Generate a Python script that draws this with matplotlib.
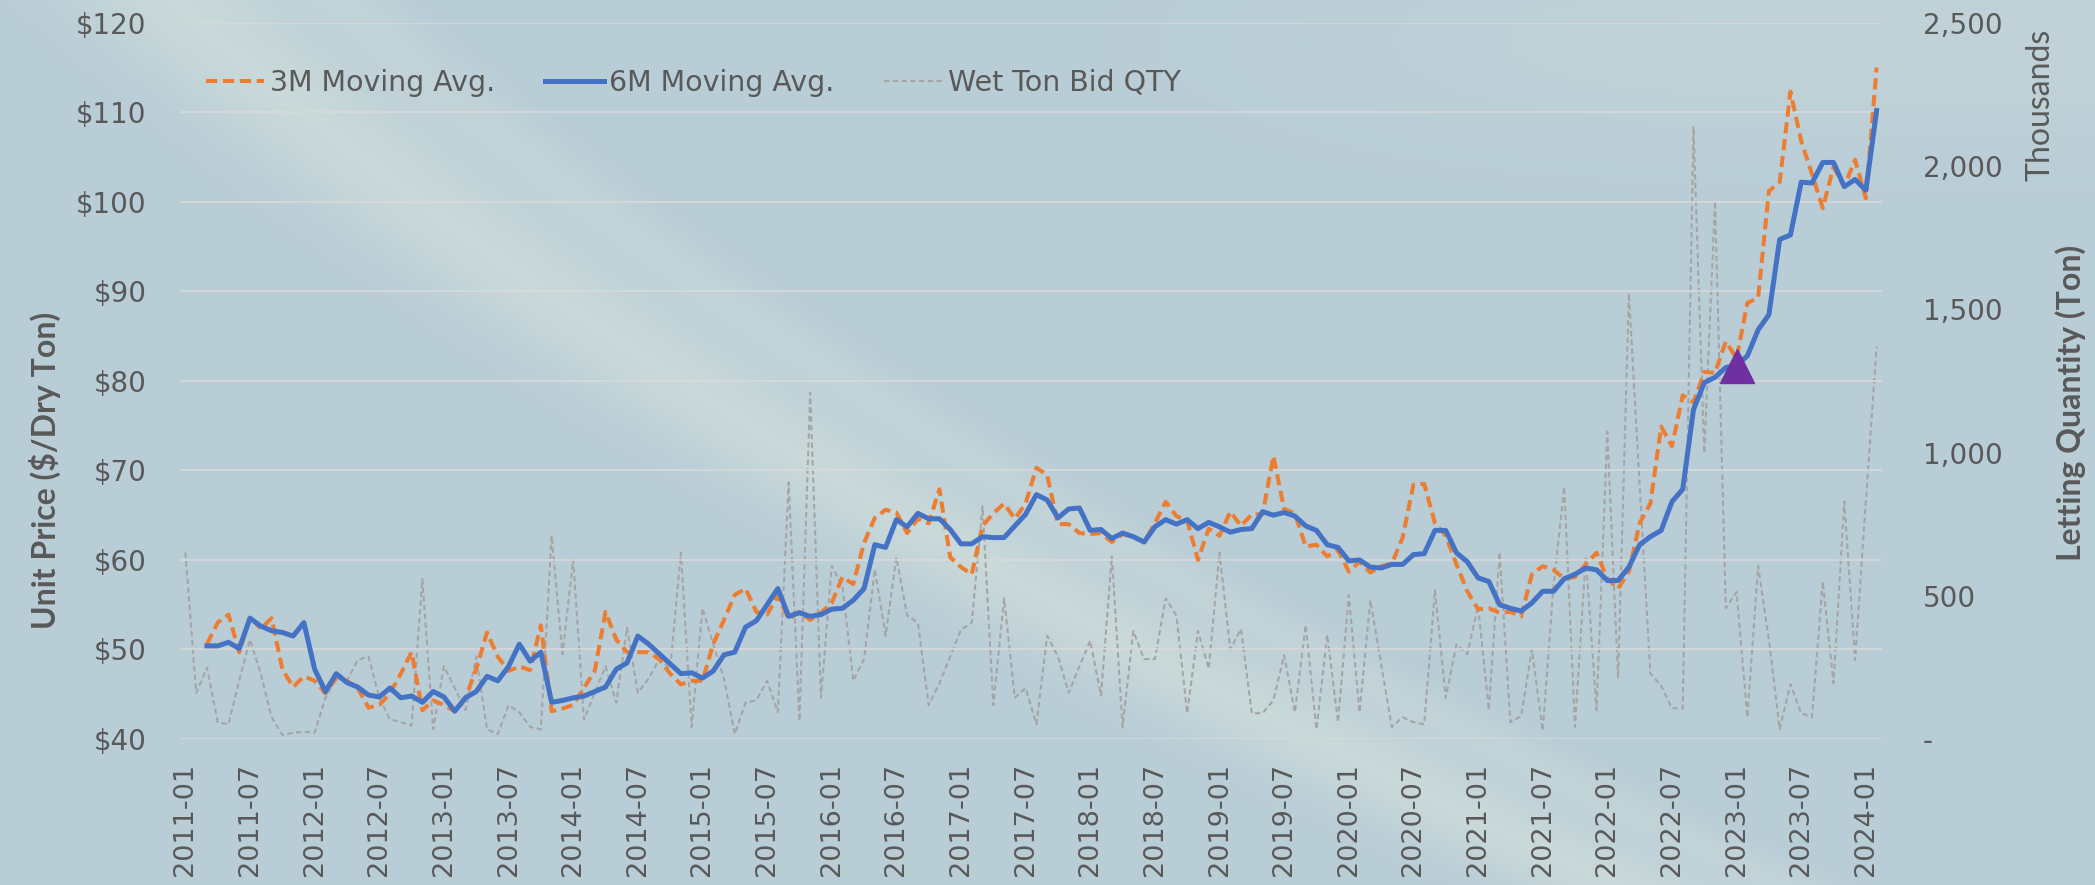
import numpy as np
import pandas as pd
import matplotlib
matplotlib.use("Agg")
import matplotlib.pyplot as plt
from matplotlib.ticker import FuncFormatter, MultipleLocator

# ====== 1) Data (monthly, 2011-01 .. 2024-02) ======
months = pd.date_range("2011-01-01", periods=158, freq="MS")

# 3-month moving average of unit price ($/dry ton), starts 2011-03
avg_3m = [
    50.6, 53.0, 53.9, 49.7, 53.7, 52.3, 53.5, 47.8, 45.8, 47.0,
    46.5, 45.1, 46.8, 46.5, 45.7, 43.5, 43.8, 45.1, 47.3, 49.7,
    43.2, 44.3, 43.8, 43.1, 44.6, 47.8, 51.9, 49.2, 47.6, 48.1,
    47.7, 52.7, 43.1, 43.4, 43.8, 45.7, 47.6, 54.2, 51.1, 49.7,
    49.7, 49.7, 48.9, 47.3, 46.1, 46.5, 46.5, 50.6, 53.3, 56.1,
    56.8, 54.2, 53.9, 56.0, 53.4, 54.2, 53.3, 54.1, 55.2, 58.1,
    57.3, 61.9, 64.7, 65.6, 65.3, 63.0, 64.6, 64.1, 67.9, 60.3,
    59.2, 58.4, 63.8, 65.2, 66.3, 64.6, 66.3, 70.3, 69.5, 64.0,
    64.0, 63.0, 62.9, 63.0, 62.0, 62.9, 62.6, 62.0, 64.1, 66.5,
    64.9, 64.4, 60.0, 63.5, 62.7, 65.4, 63.8, 65.1, 65.1, 71.6,
    65.7, 65.2, 61.5, 61.7, 60.4, 61.1, 58.7, 59.8, 58.6, 59.3,
    59.6, 62.5, 68.4, 68.5, 64.1, 62.7, 59.5, 56.5, 54.5, 54.6,
    54.1, 54.2, 53.7, 58.4, 59.3, 58.9, 57.9, 58.1, 59.5, 60.8,
    57.9, 56.8, 58.7, 64.1, 66.3, 74.9, 72.7, 78.4, 77.6, 81.0,
    80.9, 84.4, 82.5, 88.7, 89.3, 101.2, 102.2, 112.3, 106.8, 103.1,
    99.3, 103.9, 101.7, 104.7, 100.4, 115.0,
]

# 6-month moving average of unit price ($/dry ton), starts 2011-03
avg_6m = [
    50.4, 50.4, 50.8, 50.1, 53.5, 52.6, 52.1, 51.9, 51.5, 53.0,
    47.8, 45.3, 47.3, 46.3, 45.8, 44.9, 44.7, 45.7, 44.6, 44.8,
    44.1, 45.3, 44.7, 43.1, 44.6, 45.3, 47.0, 46.5, 48.1, 50.6,
    48.7, 49.7, 44.1, 44.3, 44.6, 44.8, 45.3, 45.8, 47.8, 48.5,
    51.5, 50.6, 49.5, 48.4, 47.3, 47.4, 46.8, 47.6, 49.4, 49.7,
    52.5, 53.2, 55.0, 56.8, 53.7, 54.1, 53.7, 53.9, 54.5, 54.6,
    55.5, 56.8, 61.7, 61.4, 64.5, 63.7, 65.2, 64.6, 64.6, 63.4,
    61.8, 61.8, 62.6, 62.5, 62.5, 63.8, 65.1, 67.3, 66.7, 64.7,
    65.7, 65.8, 63.3, 63.4, 62.4, 63.0, 62.6, 62.0, 63.7, 64.5,
    64.0, 64.5, 63.5, 64.2, 63.7, 63.1, 63.4, 63.5, 65.4, 65.0,
    65.3, 64.9, 63.8, 63.3, 61.7, 61.4, 59.9, 60.0, 59.2, 59.1,
    59.5, 59.5, 60.6, 60.7, 63.3, 63.3, 60.8, 59.8, 58.0, 57.6,
    55.0, 54.6, 54.3, 55.2, 56.5, 56.5, 57.9, 58.4, 59.1, 58.9,
    57.7, 57.7, 59.2, 61.7, 62.6, 63.3, 66.5, 67.9, 76.8, 79.8,
    80.4, 81.5, 81.7, 82.8, 85.7, 87.4, 95.8, 96.3, 102.2, 102.1,
    104.4, 104.4, 101.7, 102.5, 101.3, 110.2,
]

# Wet ton bid quantity (thousands of tons), from 2011-01
wet_ton_qty = [
    651, 161, 249, 59, 51, 205, 347, 228, 76, 14,
    22, 25, 22, 144, 211, 203, 276, 288, 144, 68,
    59, 47, 558, 34, 254, 178, 101, 288, 34, 17,
    118, 93, 42, 34, 710, 296, 626, 68, 161, 254,
    127, 389, 161, 211, 279, 245, 651, 42, 457, 330,
    211, 17, 127, 135, 203, 93, 896, 63, 1209, 144,
    604, 533, 203, 279, 592, 360, 634, 431, 406, 118,
    195, 288, 381, 406, 812, 118, 491, 144, 178, 51,
    360, 288, 161, 254, 343, 152, 638, 42, 377, 279,
    279, 491, 431, 90, 377, 245, 651, 313, 384, 90,
    90, 135, 293, 93, 398, 34, 364, 59, 502, 93,
    485, 262, 42, 76, 59, 51, 519, 144, 330, 296,
    465, 101, 651, 59, 80, 313, 29, 533, 880, 42,
    638, 101, 1074, 211, 1556, 888, 228, 186, 107, 107,
    2136, 998, 1878, 457, 513, 76, 604, 347, 34, 191,
    90, 76, 550, 195, 829, 276, 829, 1370,
]

marker_month = "2023-01"   # purple triangle on the 6M line

# ====== 2) Figure, background and axes ======
W, H = 2095, 885
fig = plt.figure(figsize=(W / 100, H / 100), dpi=100)

# soft blue backdrop with pale, slightly curved diagonal light streaks
yy, xx = np.mgrid[0:H, 0:W].astype(float)
base = np.array([185, 205, 215]) / 255
light = np.array([212, 225, 219]) / 255
xc = 174 + 1.1 * yy + 0.0006 * yy ** 2          # streak centre line
dx = xx - xc
w = 0.6 * np.exp(-(dx / 105) ** 2) + 0.3 * np.exp(-((dx - 170) / 50) ** 2)
w += 0.3 * np.exp(-((yy - 40) / 110) ** 2) / (1 + np.exp(-(xx - 1400) / 150))
w = np.clip(w, 0, 1)[..., None]
bg_img = base + w * (light - base)
bg = fig.add_axes([0, 0, 1, 1], zorder=-10)
bg.imshow(bg_img, aspect="auto", extent=[0, 1, 0, 1])
bg.axis("off")

left, right, top, bottom = 180, 1882, 22.8, 739
ax = fig.add_axes([left / W, 1 - bottom / H, (right - left) / W, (bottom - top) / H])
ax2 = ax.twinx()
ax.set_zorder(ax2.get_zorder() + 1)   # price lines above the quantity line
ax.patch.set_visible(False)

text_col = "#595959"
x = np.arange(len(months))
price_x = x[len(months) - len(avg_3m):]

# ====== 3) Series ======
ax2.plot(x, wet_ton_qty, color="#A5A5A5", lw=1.5, dashes=(2.6, 1.6),
         label="Wet Ton Bid QTY")
ax.plot(price_x, avg_3m, color="#ED7D31", lw=2.9, dashes=(2.8, 1.4),
        label="3M Moving Avg.")
ax.plot(price_x, avg_6m, color="#4472C4", lw=3.6, solid_joinstyle="round",
        label="6M Moving Avg.")

mi = list(months.strftime("%Y-%m")).index(marker_month)
ax.plot(mi, avg_6m[mi - price_x[0]], marker="^", ms=25, color="#7030A0",
        ls="none", zorder=5)

# ====== 4) Axes styling ======
ax.set_xlim(-0.5, len(months) - 0.5)
ax.set_ylim(40, 120)
ax2.set_ylim(0, 2500)
ax.yaxis.set_major_locator(MultipleLocator(10))
ax2.yaxis.set_major_locator(MultipleLocator(500))
ax.yaxis.set_major_formatter(FuncFormatter(lambda v, p: f"${v:.0f}"))
ax2.yaxis.set_major_formatter(FuncFormatter(lambda v, p: "-" if v == 0 else f"{v:,.0f}"))

ticks = x[::6]
ax.set_xticks(ticks)
ax.set_xticklabels([months[i].strftime("%Y-%m") for i in ticks], rotation=90)

ax.grid(axis="y", color="#DADADA", lw=1.1)
ax.set_axisbelow(True)
ax.tick_params(axis="y", length=0, pad=24, labelsize=20, labelcolor=text_col)
ax.tick_params(axis="x", length=0, pad=17, labelsize=19.5, labelcolor=text_col)
ax2.tick_params(axis="y", length=0, pad=29.5, labelsize=20, labelcolor=text_col)
for a in (ax, ax2):
    for s in a.spines.values():
        s.set_visible(False)

# axis titles
fig.text(45 / W, 1 - 470 / H, "Unit Price ($/Dry Ton)", rotation=90,
         ha="center", va="center", fontsize=23, fontweight="bold",
         family="Lato", color=text_col)
fig.text(2071 / W, 1 - 403 / H, "Letting Quantity (Ton)", rotation=90,
         ha="center", va="center", fontsize=23, fontweight="bold",
         family="Lato", color=text_col)
fig.text(2040 / W, 1 - 105 / H, "Thousands", rotation=90,
         ha="center", va="center", fontsize=23, family="Lato", color=text_col)

# legend (one row, no frame)
h1, l1 = ax.get_legend_handles_labels()
h2, l2 = ax2.get_legend_handles_labels()
ax.legend(h1 + h2, l1 + l2, loc="center left",
          bbox_to_anchor=((206 - left) / (right - left), (bottom - 83) / (bottom - top)),
          ncol=3, frameon=False, fontsize=20.5, labelcolor=text_col,
          handlelength=2.05, handletextpad=0.2, columnspacing=1.75,
          borderpad=0, borderaxespad=0)

fig.savefig("out.png", dpi=100)
